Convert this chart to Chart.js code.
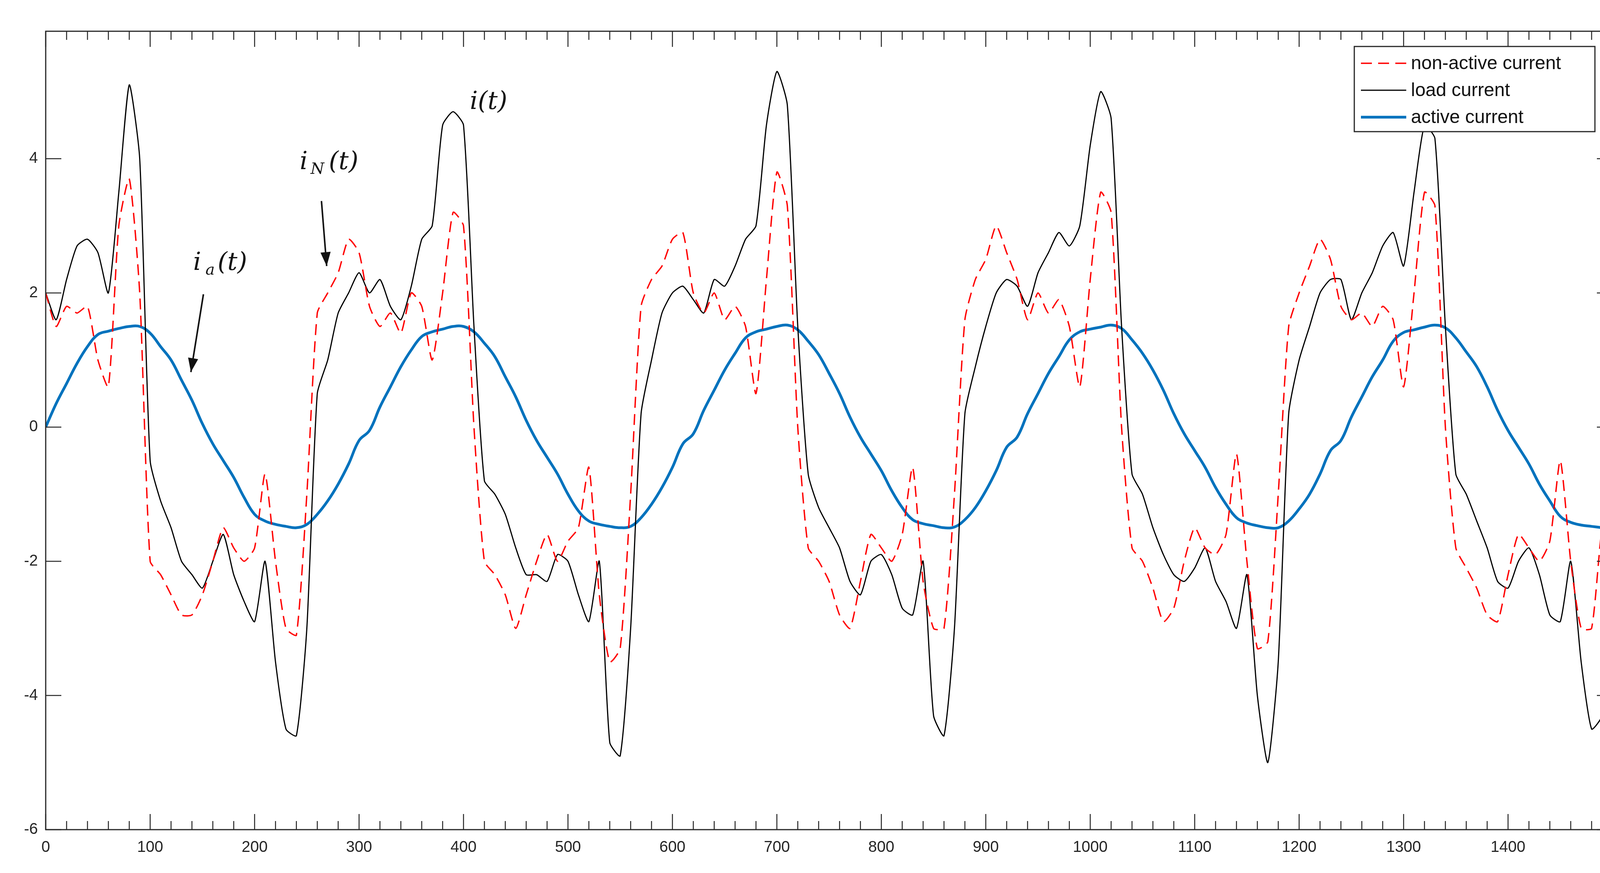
<!DOCTYPE html>
<html><head><meta charset="utf-8">
<script src="https://cdn.jsdelivr.net/npm/chart.js@4.4.0/dist/chart.umd.min.js"></script>
<style>html,body{margin:0;padding:0;background:#fff;}canvas{display:block;}</style>
</head><body>
<canvas id="c" width="4163" height="2235"></canvas>
<script>
const xs = [0,10,20,30,40,50,60,70,80,90,100,110,120,130,140,150,160,170,180,190,200,210,220,230,240,250,260,270,280,290,300,
310,320,330,340,350,360,370,380,390,400,410,420,430,440,450,460,470,480,490,500,510,520,530,540,550,560,570,580,590,600,
610,620,630,640,650,660,670,680,690,700,710,720,730,740,750,760,770,780,790,800,810,820,830,840,850,860,870,880,890,900,
910,920,930,940,950,960,970,980,990,1000,1010,1020,1030,1040,1050,1060,1070,1080,1090,1100,1110,1120,1130,1140,1150,1160,1170,1180,1190,1200,
1210,1220,1230,1240,1250,1260,1270,1280,1290,1300,1310,1320,1330,1340,1350,1360,1370,1380,1390,1400,1410,1420,1430,1440,1450,1460,1470,1480,1490,1500];
const nonActive = [2.0,1.5,1.8,1.7,1.8,1.0,0.6,3.0,3.7,2.0,-2.0,-2.2,-2.5,-2.8,-2.8,-2.5,-2.0,-1.5,-1.8,-2.0,-1.8,-0.7,-2.0,-3.0,-3.1,-1.0,1.7,2.0,2.3,2.8,2.6,
1.8,1.5,1.7,1.4,2.0,1.8,1.0,2.0,3.2,3.0,0.0,-2.0,-2.2,-2.5,-3.0,-2.5,-2.0,-1.6,-2.0,-1.7,-1.5,-0.6,-2.5,-3.5,-3.3,-1.0,1.8,2.2,2.4,2.8,
2.9,2.0,1.7,2.0,1.6,1.8,1.5,0.5,2.2,3.8,3.3,0.0,-1.8,-2.0,-2.3,-2.8,-3.0,-2.3,-1.6,-1.8,-2.0,-1.6,-0.6,-2.3,-3.0,-3.0,-1.0,1.6,2.2,2.5,
3.0,2.6,2.2,1.6,2.0,1.7,1.9,1.5,0.6,2.2,3.5,3.2,0.0,-1.8,-2.0,-2.4,-2.9,-2.7,-2.0,-1.5,-1.8,-1.9,-1.6,-0.4,-2.0,-3.3,-3.2,-1.0,1.5,2.0,
2.4,2.8,2.5,1.8,1.6,1.7,1.5,1.8,1.6,0.6,2.0,3.5,3.3,0.0,-1.8,-2.1,-2.4,-2.8,-2.9,-2.2,-1.6,-1.8,-2.0,-1.7,-0.5,-2.0,-3.0,-3.0,-1.5,-1.0];
const load = [2.0,1.6,2.2,2.7,2.8,2.6,2.0,3.5,5.1,4.0,-0.5,-1.1,-1.5,-2.0,-2.2,-2.4,-2.0,-1.6,-2.2,-2.6,-2.9,-2.0,-3.5,-4.5,-4.6,-3.0,0.5,1.0,1.7,2.0,2.3,
2.0,2.2,1.8,1.6,2.1,2.8,3.0,4.5,4.7,4.5,1.5,-0.8,-1.0,-1.3,-1.8,-2.2,-2.2,-2.3,-1.9,-2.0,-2.5,-2.9,-2.0,-4.7,-4.9,-3.0,0.2,1.0,1.7,2.0,
2.1,1.9,1.7,2.2,2.1,2.4,2.8,3.0,4.5,5.3,4.8,1.5,-0.7,-1.2,-1.5,-1.8,-2.3,-2.5,-2.0,-1.9,-2.2,-2.7,-2.8,-2.0,-4.3,-4.6,-3.0,0.2,0.9,1.5,
2.0,2.2,2.1,1.8,2.3,2.6,2.9,2.7,3.0,4.2,5.0,4.6,1.5,-0.7,-1.0,-1.5,-1.9,-2.2,-2.3,-2.1,-1.8,-2.3,-2.6,-3.0,-2.2,-4.0,-5.0,-3.5,0.2,1.0,
1.5,2.0,2.2,2.2,1.6,2.0,2.3,2.7,2.9,2.4,3.5,4.5,4.3,1.5,-0.7,-1.0,-1.4,-1.8,-2.3,-2.4,-2.0,-1.8,-2.2,-2.8,-2.9,-2.0,-3.5,-4.5,-4.3,-2.5];
const active = [0,0.35,0.65,0.95,1.2,1.38,1.43,1.47,1.5,1.5,1.4,1.2,1.0,0.7,0.4,0.05,-0.25,-0.5,-0.75,-1.05,-1.3,-1.4,-1.45,-1.48,-1.5,-1.45,-1.3,-1.1,-0.85,-0.55,-0.2,
-0.05,0.3,0.6,0.9,1.15,1.35,1.42,1.46,1.5,1.5,1.42,1.25,1.05,0.75,0.45,0.1,-0.2,-0.45,-0.7,-1.0,-1.25,-1.4,-1.45,-1.48,-1.5,-1.48,-1.35,-1.15,-0.9,-0.6,
-0.25,-0.1,0.25,0.55,0.85,1.1,1.33,1.42,1.46,1.5,1.52,1.45,1.28,1.08,0.8,0.5,0.15,-0.15,-0.4,-0.65,-0.95,-1.2,-1.38,-1.44,-1.47,-1.5,-1.49,-1.38,-1.2,-0.95,-0.65,
-0.3,-0.15,0.2,0.5,0.8,1.05,1.3,1.42,1.46,1.49,1.52,1.47,1.3,1.1,0.85,0.55,0.2,-0.1,-0.35,-0.6,-0.9,-1.15,-1.35,-1.43,-1.47,-1.5,-1.5,-1.4,-1.22,-1.0,-0.7,
-0.35,-0.2,0.15,0.45,0.75,1.0,1.28,1.41,1.45,1.49,1.52,1.48,1.33,1.12,0.9,0.6,0.25,-0.05,-0.3,-0.55,-0.85,-1.1,-1.33,-1.42,-1.46,-1.48,-1.5];
const xTicks = [0,100,200,300,400,500,600,700,800,900,1000,1100,1200,1300,1400];
const yTicks = [-6,-4,-2,0,2,4];
const seriesLabels = ['non-active current','load current','active current'];

const pts = a => xs.map((x,i)=>({x:x,y:a[i]}));

const framePlugin = {
  id:'frame',
  afterDraw(ch){
    const c=ch.ctx, xa=ch.scales.x, ya=ch.scales.y, a=ch.chartArea;
    c.save();
    c.strokeStyle='#262626'; c.lineWidth=3;
    c.strokeRect(a.left,a.top,a.right-a.left,a.bottom-a.top);
    c.lineWidth=2.5;
    for(let v=0; v<=1500; v+=20){
      const px=xa.getPixelForValue(v); if(px>a.right-2) continue;
      const L = (v%100===0)?40:22;
      c.beginPath(); c.moveTo(px,a.bottom); c.lineTo(px,a.bottom-L);
      c.moveTo(px,a.top); c.lineTo(px,a.top+L); c.stroke();
    }
    yTicks.forEach(v=>{
      const py=ya.getPixelForValue(v);
      c.beginPath(); c.moveTo(a.left,py); c.lineTo(a.left+40,py);
      c.moveTo(a.right,py); c.lineTo(a.right-40,py); c.stroke();
    });
    c.fillStyle='#111'; c.strokeStyle='#111';
    c.font='italic 64px "DejaVu Serif"'; c.textBaseline='middle'; c.textAlign='center';
    const P=(x,y)=>[xa.getPixelForValue(x),ya.getPixelForValue(y)];
    let p=P(424,4.84); c.fillText('i(t)',p[0],p[1]);
    p=P(262,3.94); c.fillText('i',p[0]-40,p[1]);
    c.font='italic 40px "DejaVu Serif"'; c.fillText('N',p[0]-5,p[1]+18);
    c.font='italic 64px "DejaVu Serif"'; c.fillText('(t)',p[0]+62,p[1]);
    p=P(160,2.44); c.fillText('i',p[0]-40,p[1]);
    c.font='italic 40px "DejaVu Serif"'; c.fillText('a',p[0]-7,p[1]+18);
    c.font='italic 64px "DejaVu Serif"'; c.fillText('(t)',p[0]+50,p[1]);
    const arrow=(x1,y1,x2,y2)=>{
      const a1=P(x1,y1), a2=P(x2,y2);
      c.lineWidth=4; c.beginPath(); c.moveTo(a1[0],a1[1]); c.lineTo(a2[0],a2[1]); c.stroke();
      const ang=Math.atan2(a2[1]-a1[1],a2[0]-a1[0]);
      c.beginPath(); c.moveTo(a2[0],a2[1]);
      c.lineTo(a2[0]-38*Math.cos(ang-0.35),a2[1]-38*Math.sin(ang-0.35));
      c.lineTo(a2[0]-38*Math.cos(ang+0.35),a2[1]-38*Math.sin(ang+0.35));
      c.closePath(); c.fill();
    };
    arrow(264,3.37,269,2.4);
    arrow(151,1.98,139,0.82);
    const lx=3467, ly=119, lw=616, lh=218;
    c.fillStyle='#fff'; c.fillRect(lx,ly,lw,lh);
    c.strokeStyle='#262626'; c.lineWidth=3; c.strokeRect(lx,ly,lw,lh);
    const rows=[162,231,300];
    ch.data.datasets.forEach((d,i)=>{
      c.save();
      c.strokeStyle=d.borderColor; c.lineWidth=d.borderWidth;
      c.setLineDash(d.borderDash||[]);
      c.beginPath(); c.moveTo(3484,rows[i]); c.lineTo(3600,rows[i]); c.stroke();
      c.restore();
      c.fillStyle='#111'; c.font='48px "Liberation Sans"'; c.textAlign='left'; c.textBaseline='middle';
      c.fillText(d.label,3612,rows[i]+2);
    });
    c.restore();
  }
};

new Chart(document.getElementById('c'),{
  type:'line',
  data:{datasets:[
    {label:seriesLabels[0],data:pts(nonActive),borderColor:'#ff0000',borderWidth:3.5,borderDash:[28,16],pointRadius:0,tension:0.2},
    {label:seriesLabels[1],data:pts(load),borderColor:'#000000',borderWidth:3,pointRadius:0,tension:0.2},
    {label:seriesLabels[2],data:pts(active),borderColor:'#0072BD',borderWidth:7,pointRadius:0,tension:0.4}
  ]},
  options:{
    responsive:false, animation:false, devicePixelRatio:1,
    layout:{padding:{top:80,right:35,left:0,bottom:0}},
    plugins:{legend:{display:false},tooltip:{enabled:false}},
    scales:{
      x:{type:'linear',min:0,max:1500,
        afterBuildTicks:s=>{s.ticks=xTicks.map(v=>({value:v}));},
        grid:{display:false},border:{display:false},
        ticks:{color:'#262626',font:{size:40,family:'Liberation Sans'},maxRotation:0,padding:14,callback:v=>String(v)},
        afterFit:s=>{s.height=111;}},
      y:{min:-6,max:5.9,
        afterBuildTicks:s=>{s.ticks=yTicks.map(v=>({value:v}));},
        grid:{display:false},border:{display:false},
        ticks:{color:'#262626',font:{size:40,family:'Liberation Sans'},padding:12},
        afterFit:s=>{s.width=117;}}
    }
  },
  plugins:[framePlugin]
});
</script>
</body></html>
